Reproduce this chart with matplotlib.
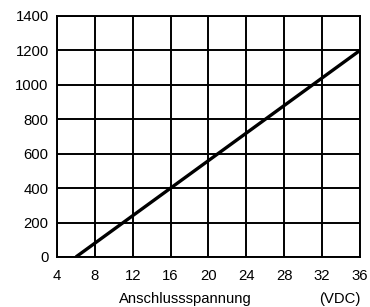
import matplotlib.pyplot as plt
import numpy as np

plt.rcParams['font.family'] = ['Liberation Sans', 'DejaVu Sans']

volts = [6, 36]
power = [0, 1200]
xticks = np.arange(4, 37, 4)
yticks = np.arange(0, 1401, 200)

fig = plt.figure(figsize=(3.7, 3.07), dpi=100)
ax = fig.add_axes([0.154, 0.163, 0.819, 0.785])

ax.plot(volts, power, color='black', linewidth=2.4, solid_capstyle='butt', zorder=3)

ax.set_xlim(4, 36)
ax.set_ylim(0, 1400)
ax.set_xticks(xticks)
ax.set_yticks(yticks)
ax.tick_params(length=0, labelsize=10.7)
ax.tick_params(axis='x', pad=9)
ax.tick_params(axis='y', pad=6)
ax.grid(color='black', linewidth=1.4)
for s in ax.spines.values():
    s.set_linewidth(1.4)

fig.text(0.50, 0.002, "Anschlussspannung", fontsize=10.7, ha='center', va='bottom')
fig.text(0.918, 0.002, "(VDC)", fontsize=10.7, ha='center', va='bottom')

plt.savefig("out.png", dpi=100)
